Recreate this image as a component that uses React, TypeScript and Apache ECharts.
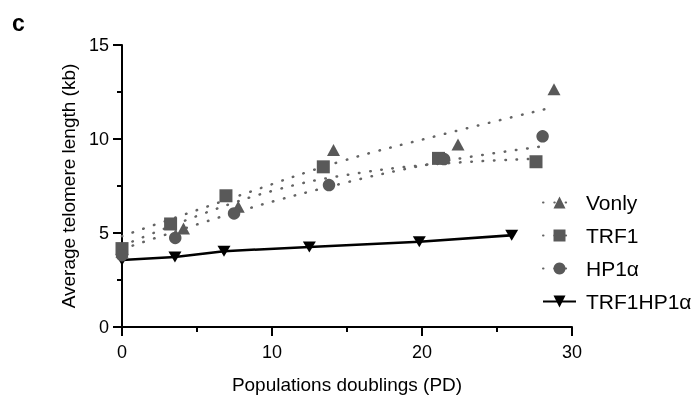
import React, { useEffect, useRef } from 'react';
import * as echarts from 'echarts';

const FONT = '"Liberation Sans", Arial, Helvetica, sans-serif';

// Measured data (x = population doublings, y = average telomere length in kb)
const PD_VONLY = [0, 4.1, 7.75, 14.1, 22.4, 28.8];
const LEN_VONLY = [4.0, 5.24, 6.39, 9.41, 9.71, 12.64];

const PD_TRF1 = [0, 3.24, 6.93, 13.42, 21.1, 27.6];
const LEN_TRF1 = [4.17, 5.48, 6.98, 8.52, 8.97, 8.79];

const PD_HP1A = [0, 3.55, 7.47, 13.8, 21.47, 28.04];
const LEN_HP1A = [3.82, 4.74, 6.04, 7.55, 8.93, 10.14];

const PD_TRF1HP1A = [0, 3.53, 6.8, 12.49, 19.82, 25.98];
const LEN_TRF1HP1A = [3.57, 3.72, 4.03, 4.26, 4.53, 4.88];

// Dotted fit curves
const FIT_PD_VONLY = [0, 8.1, 14.6, 21.4, 28.8];
const FIT_LEN_VONLY = [4.83, 7.07, 8.81, 10.25, 11.7];

const FIT_PD_TRF1 = [0, 6, 10.3, 14.3, 20.4, 27.6];
const FIT_LEN_TRF1 = [4.32, 6.2, 7.3, 8.0, 8.63, 8.95];

const FIT_PD_HP1A = [0, 8.2, 15.1, 19.7, 22.8, 28.04];
const FIT_LEN_HP1A = [4.14, 6.25, 7.72, 8.54, 9.0, 9.61];

const X_TICKS = [0, 10, 20, 30];
const Y_TICKS = [0, 5, 10, 15];

const LEGEND_NAMES = ['Vonly', 'TRF1', 'HP1α', 'TRF1HP1α'];

const zip = (xs: number[], ys: number[]) => xs.map((x, i) => [x, ys[i]]);

const GREY = '#595959';
const DOT_GREY = '#646464';

function fitSeries(name: string, xs: number[], ys: number[], symbol: string, symbolSize: any) {
  return {
    type: 'line',
    name,
    data: zip(xs, ys),
    symbol,
    symbolSize,
    showSymbol: false,
    smooth: 0.4,
    silent: true,
    z: 2,
    itemStyle: { color: GREY },
    lineStyle: { color: DOT_GREY, width: 2.5, type: [0.5, 10.8], cap: 'round' },
  };
}

function scatterSeries(name: string, xs: number[], ys: number[], symbol: string, symbolSize: any) {
  return {
    type: 'scatter',
    name,
    data: zip(xs, ys),
    symbol,
    symbolSize,
    z: 4,
    itemStyle: { color: GREY, opacity: 1 },
  };
}

export default function App() {
  const ref = useRef<HTMLDivElement>(null);
  useEffect(() => {
    const chart = echarts.init(ref.current!, null, { renderer: 'svg' });
    const axisCommon = {
      axisLine: { show: true, lineStyle: { color: '#000', width: 2 } },
      axisTick: { show: true, length: 9, lineStyle: { color: '#000', width: 2 } },
      minorTick: { show: true, splitNumber: 2, length: 5, lineStyle: { color: '#000', width: 2 } },
      splitLine: { show: false },
      minorSplitLine: { show: false },
      nameTextStyle: { color: '#000', fontSize: 19, fontFamily: FONT },
      nameLocation: 'middle',
    };
    chart.setOption({
      animation: false,
      grid: { left: 122, right: 128, top: 45, bottom: 77, containLabel: false },
      textStyle: { fontFamily: FONT },
      xAxis: {
        type: 'value',
        min: X_TICKS[0],
        max: X_TICKS[X_TICKS.length - 1],
        interval: X_TICKS[1] - X_TICKS[0],
        name: 'Populations doublings (PD)',
        nameGap: 48,
        ...axisCommon,
        axisLabel: { color: '#000', fontSize: 18, fontFamily: FONT, margin: 16 },
      },
      yAxis: {
        type: 'value',
        min: Y_TICKS[0],
        max: Y_TICKS[Y_TICKS.length - 1],
        interval: Y_TICKS[1] - Y_TICKS[0],
        name: 'Average telomere length (kb)',
        nameGap: 44,
        ...axisCommon,
        axisLabel: { color: '#000', fontSize: 18, fontFamily: FONT, margin: 13 },
      },
      legend: {
        orient: 'vertical',
        left: 537,
        top: 187,
        itemWidth: 33,
        itemHeight: 15,
        itemGap: 12,
        selectedMode: false,
        data: LEGEND_NAMES,
        textStyle: { color: '#000', fontSize: 21, fontFamily: FONT, padding: [0, 0, 0, 5] },
      },
      graphic: [
        {
          type: 'text',
          left: 12,
          top: 11,
          style: { text: 'c', font: `bold 23px ${FONT}`, fill: '#000' },
        },
      ],
      series: [
        fitSeries('Vonly', FIT_PD_VONLY, FIT_LEN_VONLY, 'triangle', [12, 11]),
        fitSeries('TRF1', FIT_PD_TRF1, FIT_LEN_TRF1, 'rect', 12),
        fitSeries('HP1α', FIT_PD_HP1A, FIT_LEN_HP1A, 'circle', 12),
        {
          type: 'line',
          name: 'TRF1HP1α',
          data: zip(PD_TRF1HP1A, LEN_TRF1HP1A),
          symbol: 'triangle',
          symbolRotate: 180,
          symbolSize: [13, 11],
          showSymbol: true,
          z: 3,
          itemStyle: { color: '#000' },
          lineStyle: { color: '#000', width: 2.5 },
        },
        scatterSeries('Vonly', PD_VONLY, LEN_VONLY, 'triangle', [13, 12]),
        scatterSeries('TRF1', PD_TRF1, LEN_TRF1, 'rect', 13),
        scatterSeries('HP1α', PD_HP1A, LEN_HP1A, 'circle', 12.5),
      ],
    });
    return () => chart.dispose();
  }, []);
  return <div ref={ref} style={{ position: 'fixed', left: 0, top: 0, width: 700, height: 404 }} />;
}
